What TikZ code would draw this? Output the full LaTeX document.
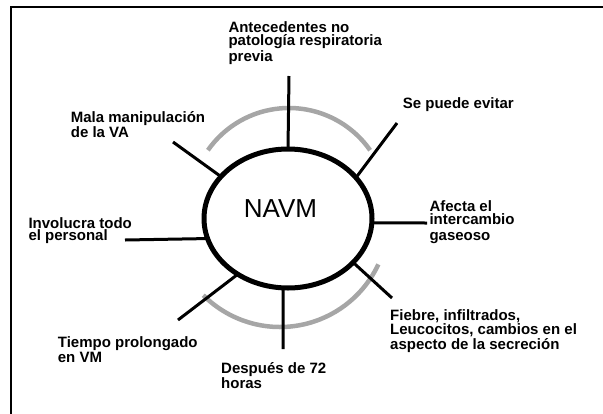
\documentclass[tikz,border=0pt]{standalone}
\usepackage{fontspec}
\setmainfont{Liberation Sans}
\usetikzlibrary{shapes.geometric}

\begin{document}
\begin{tikzpicture}[x=1pt,y=-1pt,
  lbl/.style={anchor=base west, align=left, inner sep=0pt,
    font=\bfseries\fontsize{15}{13}\selectfont},
  spoke/.style={line width=3pt},
  halo/.style={line width=4.5pt, black!35}]
\useasboundingbox (0,0) rectangle (603,413);
\draw[line width=1.2pt] (11,7) rectangle (625,430);
% grey arcs behind the spokes
\draw[halo] (289,207) ++(-35:99) arc[start angle=-35, end angle=-145, radius=99];
\draw[halo] (280,218.5) ++(135:108.5) arc[start angle=135, end angle=25, radius=108.5];
\node[ellipse, draw, line width=5pt, minimum width=168pt, minimum height=139pt,
  inner sep=0pt, outer sep=0pt] (navm) at (288,218.5) {};
\node[anchor=base, inner sep=0pt, font=\fontsize{26}{30}\selectfont] (navmtxt) at (280.5,217.3) {NAVM};
% free ends of the spokes
\coordinate (a1) at (289,76);
\coordinate (a2) at (173,142);
\coordinate (a3) at (397,123);
\coordinate (a4) at (427,223);
\coordinate (a5) at (125,240);
\coordinate (a6) at (178,320);
\coordinate (a7) at (283,349);
\coordinate (a8) at (392,298);
\draw[spoke] (navm.90) -- (a1);
\draw[spoke] (navm.148.5) -- (a2);
\draw[spoke] (navm.31.8) -- (a3);
\draw[spoke] (navm.-3) -- (a4);
\draw[spoke] (navm.194) -- (a5);
\draw[spoke] (navm.228) -- (a6);
\draw[spoke] (navm.266) -- (a7);
\draw[spoke] (navm.326.8) -- (a8);
% labels, placed by the baseline of their last line
\node[lbl] (antec) at (228.3,61) {Antecedentes no\\patología respiratoria\\previa};
\node[lbl] (mala) at (70.7,137.3) {Mala manipulación\\de la VA};
\node[lbl] (evitar) at (402.7,108.3) {Se puede evitar};
\node[lbl] (afecta) at (429.3,240) {Afecta el\\intercambio\\[2.5pt]gaseoso};
\node[lbl] (invol) at (28.3,240) {Involucra todo\\[-1pt]el personal};
\node[lbl] (tiempo) at (57.7,362.3) {Tiempo prolongado\\en VM};
\node[lbl] (despues) at (221,388.5) {Después de 72\\horas};
\node[lbl] (fiebre) at (390,349) {Fiebre, infiltrados,\\Leucocitos, cambios en el\\aspecto de la secreción};
\end{tikzpicture}
\end{document}
